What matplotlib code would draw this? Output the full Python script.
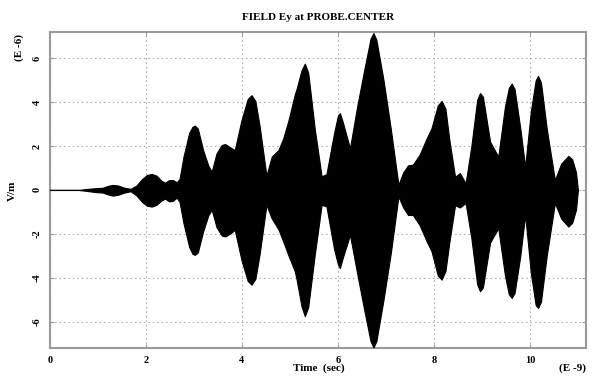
import matplotlib
matplotlib.use("Agg")
import matplotlib.pyplot as plt

# envelope of the probe field (time in E-9 s, field in E-6 V/m)
time_ns = [0.00, 0.60, 0.75, 0.95, 1.10, 1.20, 1.31, 1.42, 1.55, 1.68,
           1.80, 1.92, 2.02, 2.12, 2.22, 2.32, 2.40, 2.48, 2.56, 2.64,
           2.70, 2.78, 2.90, 2.97, 3.02, 3.08, 3.19, 3.30, 3.37, 3.47,
           3.58, 3.65, 3.75, 3.85, 3.99, 4.12, 4.20, 4.28, 4.37, 4.51,
           4.62, 4.76, 4.86, 4.97, 5.10, 5.14, 5.24, 5.31, 5.38, 5.52,
           5.66, 5.76, 5.92, 6.00, 6.04, 6.10, 6.25, 6.40, 6.55, 6.68,
           6.74, 6.80, 6.95, 7.10, 7.26, 7.36, 7.46, 7.56, 7.70, 7.85,
           7.95, 8.08, 8.16, 8.24, 8.32, 8.44, 8.54, 8.66, 8.78, 8.90,
           8.96, 9.02, 9.17, 9.34, 9.48, 9.56, 9.62, 9.68, 9.80, 9.90,
           10.02, 10.12, 10.17, 10.23, 10.35, 10.52, 10.65, 10.80, 10.88, 10.96,
           11.00]
env_upper = [0.0, 0.0, 0.04, 0.08, 0.10, 0.18, 0.23, 0.20, 0.10, 0.05,
             0.20, 0.50, 0.68, 0.73, 0.65, 0.42, 0.33, 0.45, 0.45, 0.35,
             0.50, 1.50, 2.60, 2.88, 2.93, 2.80, 1.82, 1.10, 0.83, 1.67,
             2.05, 2.09, 1.95, 1.82, 3.18, 4.15, 4.32, 4.05, 2.88, 0.65,
             1.52, 1.82, 2.35, 3.18, 4.35, 4.62, 5.45, 5.76, 5.35, 2.73,
             0.62, 0.72, 2.60, 3.40, 3.50, 3.10, 1.90, 3.80, 5.50, 6.90,
             7.15, 6.85, 5.00, 2.80, 0.24, 0.80, 1.12, 1.15, 1.60, 2.36,
             2.82, 3.85, 4.06, 3.70, 2.30, 0.60, 0.77, 0.30, 2.00, 4.10,
             4.42, 4.25, 2.20, 1.52, 3.80, 4.65, 4.85, 4.60, 2.80, 1.06,
             3.60, 5.00, 5.20, 4.90, 2.80, 0.45, 1.20, 1.55, 1.40, 0.80,
             0.0]
env_lower = [0.0, 0.0, -0.04, -0.10, -0.12, -0.20, -0.26, -0.22, -0.12, -0.06,
             -0.25, -0.55, -0.72, -0.76, -0.68, -0.48, -0.40, -0.52, -0.50, -0.35,
             -0.55, -1.50, -2.60, -2.92, -2.96, -2.85, -1.90, -1.15, -0.91, -1.70,
             -2.08, -2.12, -2.00, -1.82, -3.20, -4.15, -4.32, -4.05, -2.90, -0.68,
             -1.30, -1.80, -2.35, -3.00, -3.70, -4.10, -5.30, -5.76, -5.35, -2.90,
             -0.68, -0.75, -2.70, -3.40, -3.56, -3.10, -2.05, -3.80, -5.50, -6.90,
             -7.18, -6.90, -5.00, -2.90, -0.30, -0.80, -1.14, -1.14, -1.60, -2.35,
             -2.80, -3.90, -4.09, -3.70, -2.40, -0.70, -0.80, -0.60, -2.20, -4.30,
             -4.62, -4.45, -2.40, -1.74, -3.90, -4.75, -4.92, -4.70, -3.00, -1.14,
             -3.80, -5.25, -5.38, -5.10, -3.00, -0.60, -1.30, -1.67, -1.50, -0.90,
             0.0]

x_ticks = [0, 2, 4, 6, 8, 10]
y_ticks = [-6, -4, -2, 0, 2, 4, 6]

font = "Liberation Serif"
spine_col = "#9a9a9a"

fig = plt.figure(figsize=(5.95, 3.81), dpi=100)
ax = fig.add_axes([0.084, 0.087, 0.901, 0.829])

ax.fill_between(time_ns, env_lower, env_upper, color="black",
                linewidth=0.8, edgecolor="black", zorder=3)
ax.plot([0, 11.0], [0, 0], color="black", linewidth=0.8, zorder=3)

ax.set_xlim(0, 11.17)
ax.set_ylim(-7.2, 7.2)
ax.set_xticks(x_ticks)
ax.set_yticks(y_ticks)
ax.set_xticklabels([str(v) for v in x_ticks], fontfamily=font,
                   fontweight="bold", fontsize=7.5)
ax.set_yticklabels([str(v) for v in y_ticks], fontfamily=font,
                   fontweight="bold", fontsize=7.5, rotation=90, va="center")
ax.tick_params(direction="in", length=3, color=spine_col, top=True,
               right=True, pad=6)
ax.grid(True, linestyle=(0, (1.5, 2.5)), color="#b0b0b0", linewidth=0.8)
ax.set_axisbelow(True)
for s in ax.spines.values():
    s.set_color(spine_col)
    s.set_linewidth(1.5)

ax.set_title("FIELD Ey at PROBE.CENTER", fontfamily=font,
             fontweight="bold", fontsize=8, pad=9)
fig.text(0.535, 0.02, "Time  (sec)", fontfamily=font, fontweight="bold",
         fontsize=8, ha="center", va="bottom")
fig.text(0.962, 0.02, "(E -9)", fontfamily=font, fontweight="bold",
         fontsize=8, ha="center", va="bottom")
fig.text(0.02, 0.50, "V/m", fontfamily=font, fontweight="bold",
         fontsize=8, ha="center", va="center", rotation=90)
fig.text(0.032, 0.875, "(E -6)", fontfamily=font, fontweight="bold",
         fontsize=8, ha="center", va="center", rotation=90)

fig.savefig("out.png", dpi=100)
